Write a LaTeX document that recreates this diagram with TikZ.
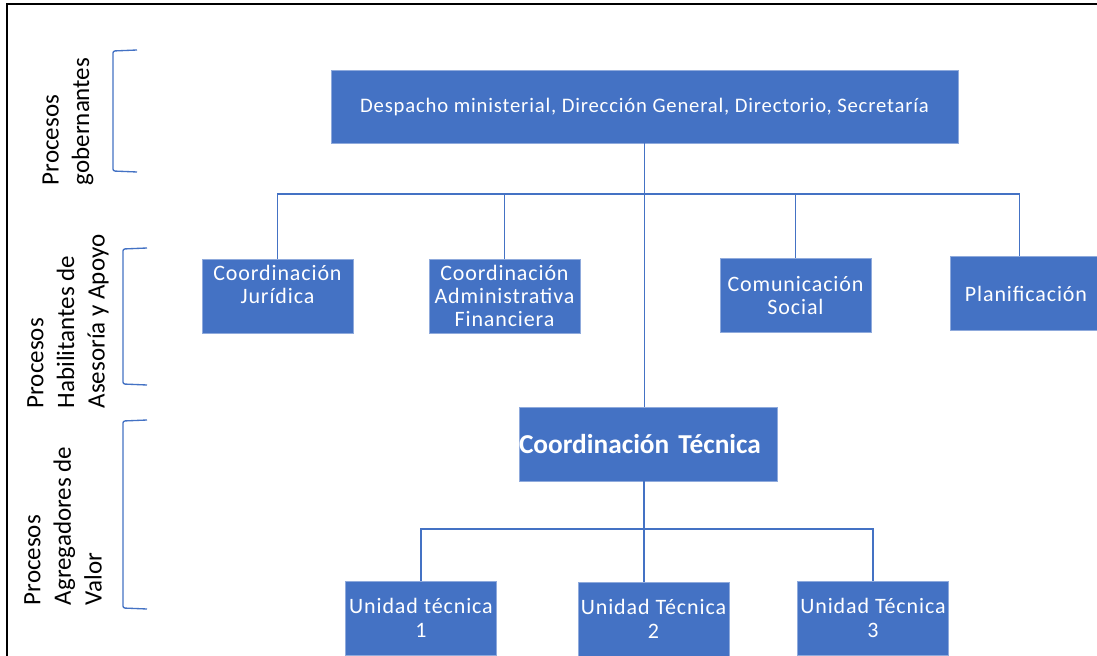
\documentclass[tikz,border=0pt]{standalone}
\usepackage{fontspec}
\setmainfont{Carlito}
\newfontfamily\boxfont[LetterSpace=4]{Carlito}
\definecolor{ofblue}{RGB}{68,114,196}
\definecolor{ofedge}{RGB}{143,170,220}

\begin{document}
\begin{tikzpicture}[x=0.75pt,y=-0.75pt]
\tikzstyle{every node}+=[inner sep=0pt]
\tikzstyle{unit}=[fill=ofblue, draw=ofedge, line width=0.4pt, text=white, align=center, minimum width=113.25pt, minimum height=55.5pt, font=\boxfont\fontsize{16.5}{17.5}\selectfont]
\tikzstyle{link}=[draw=ofblue, line width=1.1pt]
\tikzstyle{brak}=[draw=ofblue, line width=1pt, rounded corners=1.5pt]
\tikzstyle{side}=[rotate=90, align=left, font=\fontsize{18.75}{23}\selectfont]
\useasboundingbox (0,0) rectangle (1097,656);
\fill [white] (0,0) rectangle (1097,656);
\draw [black, line width=1.5pt] (6.5,656) -- (6.5,4) -- (1097,4);
\node [unit, minimum width=470.25pt, minimum height=54.75pt, font=\boxfont\fontsize{15.5}{17}\selectfont] (desp) at (644.5,106.5) {Despacho ministerial, Dirección General, Directorio, Secretaría};
\node [unit] (jur) at (277.5,296) {Coordinación\\Jurídica\\\mbox{}};
\node [unit] (adm) at (504.5,296) {Coordinación\\Administrativa\\Financiera};
\node [unit] (com) at (795.5,295.5) {Comunicación\\Social};
\node [unit] (pla) at (1026,293.5) {Planificación};
\node [unit, text width=193.5pt, align=left, font=\bfseries\fontsize{20.5}{22}\selectfont] (tec) at (648,444) {Coordinación Técnica};
\node [unit] (u1) at (421,618) {Unidad técnica\\1};
\node [unit] (u2) at (653.5,619) {Unidad Técnica\\2};
\node [unit] (u3) at (873,618) {Unidad Técnica\\3};
\coordinate (bar) at (645,194);
\coordinate (sub) at (645,529);
\draw [link] (desp.south) -- (desp.south |- tec.north);
\draw [link] (jur.north) |- (bar) -| ([xshift=-5pt]pla.north);
\draw [link] (adm.north) -- (adm.north |- bar);
\draw [link] (com.north) -- (com.north |- bar);
\draw [link] ([xshift=-3pt]tec.south) -- ([xshift=-3pt]tec.south |- u2.north);
\draw [link] (u1.north) |- (sub) -| (u3.north);
\draw [brak] (137,50) -- (113,51) -- (113,171) -- (137,172);
\draw [brak] (147,248) -- (123,249) -- (123,384) -- (147,385);
\draw [brak] (147,420) -- (123,421) -- (123,608) -- (147,609);
\node [side] (gob) at (68,121.5) {Procesos\\gobernantes};
\node [side] (hab) at (68,321.5) {Procesos\\Habilitantes de\\Asesoría y Apoyo};
\node [side] (agr) at (63,526) {Procesos\\Agregadores de\\Valor};
\end{tikzpicture}
\end{document}
